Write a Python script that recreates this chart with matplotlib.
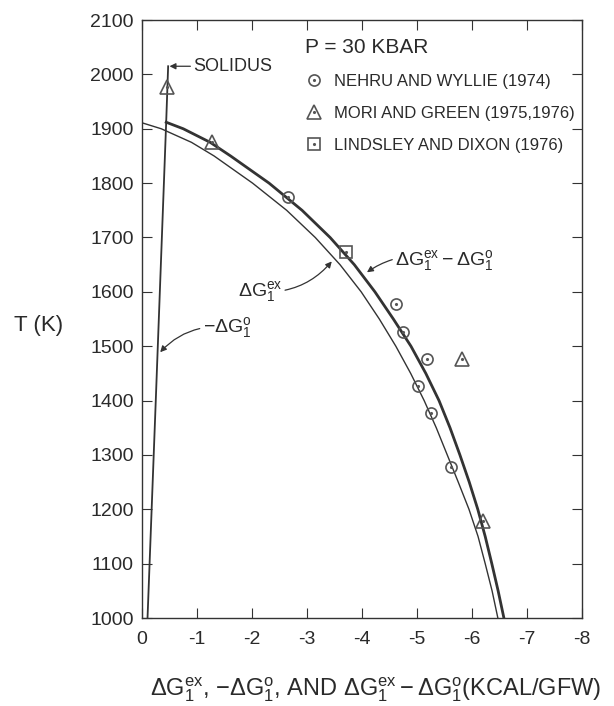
import matplotlib
matplotlib.use("Agg")
import matplotlib.pyplot as plt
from matplotlib.legend_handler import HandlerTuple

# ---------------- data ----------------
# -dG1^0 line (solidus)
g0_x = [-0.10, -0.25, -0.44, -0.475]
g0_T = [1000, 1400, 1914, 2015]

# dG1^ex - dG1^0 (thick curve)
diff_T = [1000, 1050, 1100, 1150, 1200, 1250, 1300, 1350, 1400, 1450, 1500,
          1550, 1600, 1650, 1700, 1750, 1800, 1850, 1875, 1900, 1912]
diff_x = [-6.58, -6.475, -6.36, -6.24, -6.105, -5.95, -5.78, -5.6, -5.40, -5.16, -4.89,
          -4.57, -4.235, -3.86, -3.42, -2.91, -2.31, -1.61, -1.24, -0.75, -0.44]

# dG1^ex (thin curve)
ex_T = [1000, 1050, 1100, 1150, 1200, 1250, 1300, 1350, 1400, 1450, 1500,
        1550, 1600, 1650, 1700, 1750, 1800, 1850, 1875, 1900, 1911]
ex_x = [-6.47, -6.365, -6.24, -6.11, -5.945, -5.75, -5.55, -5.35, -5.13, -4.885, -4.615,
        -4.315, -3.985, -3.60, -3.15, -2.63, -2.01, -1.31, -0.90, -0.35, 0.0]

# experimental points
nehru_x = [-2.65, -4.62, -4.75, -5.18, -5.02, -5.26, -5.62]
nehru_T = [1775, 1578, 1526, 1476, 1427, 1377, 1278]
mori_x = [-0.45, -1.27, -5.82, -6.2]
mori_T = [1976, 1875, 1476, 1178]
lind_x = [-3.71]
lind_T = [1673]

xticks = [0, -1, -2, -3, -4, -5, -6, -7, -8]
xticklabels = ["0", "-1", "-2", "-3", "-4", "-5", "-6", "-7", "-8"]
yticks = list(range(1000, 2101, 100))

legend_title = "P = 30 KBAR"
legend_labels = ["NEHRU AND WYLLIE (1974)", "MORI AND GREEN (1975,1976)",
                 "LINDSLEY AND DIXON (1976)"]

# ---------------- fonts ----------------
main_font = "Liberation Sans"
plt.rcParams["font.family"] = [main_font, "DejaVu Sans"]
plt.rcParams["mathtext.fontset"] = "custom"
plt.rcParams["mathtext.rm"] = main_font
plt.rcParams["mathtext.it"] = main_font
plt.rcParams["mathtext.default"] = "regular"

INK = "#333333"
MK = "#555555"
TXT = "#2a2a2a"

fig = plt.figure(figsize=(6.14, 7.06), dpi=100)
ax = fig.add_axes([0.2313, 0.1246, 0.7166, 0.847])

ax.plot(g0_x, g0_T, color=INK, lw=1.3)
ax.plot(diff_x, diff_T, color=INK, lw=2.0)
ax.plot(ex_x, ex_T, color=INK, lw=1.0)

mk_kw = dict(ls="none", mfc="none", mec=MK, mew=1.2)
dot_kw = dict(ls="none", marker=".", ms=2.5, color=MK)
h1, = ax.plot(nehru_x, nehru_T, marker="o", ms=8, **mk_kw)
d1, = ax.plot(nehru_x, nehru_T, **dot_kw)
h2, = ax.plot(mori_x, mori_T, marker="^", ms=9.5, **mk_kw)
d2, = ax.plot(mori_x, mori_T, **dot_kw)
h3, = ax.plot(lind_x, lind_T, marker="s", ms=8, **mk_kw)
d3, = ax.plot(lind_x, lind_T, **dot_kw)

leg = ax.legend([(h1, d1), (h2, d2), (h3, d3)], legend_labels,
                handler_map={tuple: HandlerTuple(ndivide=1, pad=0)},
                title=legend_title, frameon=False, loc="upper left",
                bbox_to_anchor=(0.345, 0.99), fontsize=12,
                title_fontproperties={"size": 15, "family": [main_font, "DejaVu Sans"]},
                handlelength=1.0, handletextpad=0.7, labelspacing=1.03,
                alignment="left", borderaxespad=0.3)
for t in leg.get_texts():
    t.set_color(TXT)
leg.get_title().set_color(TXT)

ax.set_xlim(0, -8)
ax.set_ylim(1000, 2100)
ax.set_xticks(xticks)
ax.set_xticklabels(xticklabels)
ax.set_yticks(yticks)
ax.tick_params(direction="in", top=True, right=True, labelsize=14, length=7,
               width=0.8, colors=INK, labelcolor=TXT)
ax.tick_params(axis="x", pad=9)
ax.tick_params(axis="y", pad=6)
for s in ax.spines.values():
    s.set_color(INK)
    s.set_linewidth(1.0)

arrow = dict(arrowstyle="-|>", color=INK, lw=0.9, mutation_scale=9,
             shrinkA=0, shrinkB=0)

ax.annotate("SOLIDUS", xy=(-0.5, 2015), xytext=(-0.93, 2015),
            fontsize=13, color=TXT, va="center", ha="left",
            arrowprops=dict(arrow, connectionstyle="arc3,rad=0"))
ax.annotate(r"$-\Delta G_1^{o}$", xy=(-0.33, 1489), xytext=(-1.1, 1535),
            fontsize=14, color=TXT, va="center", ha="left",
            arrowprops=dict(arrow, connectionstyle="arc3,rad=0.25"))
ax.annotate(r"$\Delta G_1^{ex}$", xy=(-3.45, 1656), xytext=(-2.55, 1600),
            fontsize=14, color=TXT, va="center", ha="right",
            arrowprops=dict(arrow, connectionstyle="arc3,rad=0.25"))
ax.annotate(r"$\Delta G_1^{ex}-\Delta G_1^{o}$", xy=(-4.09, 1636), xytext=(-4.6, 1657),
            fontsize=14, color=TXT, va="center", ha="left",
            arrowprops=dict(arrow, connectionstyle="arc3,rad=0.25"))

ax.set_ylabel("T (K)", rotation=0, fontsize=16, color=TXT, va="center", ha="center")
ax.yaxis.set_label_coords(-0.234, 0.49)
ax.set_xlabel(r"$\Delta G_1^{ex}$, $-\Delta G_1^{o}$, AND $\Delta G_1^{ex}-\Delta G_1^{o}$(KCAL/GFW)",
              fontsize=17, color=TXT, va="center", ha="center")
ax.xaxis.set_label_coords(0.532, -0.119)

fig.savefig("out.png", dpi=100, facecolor="white")
